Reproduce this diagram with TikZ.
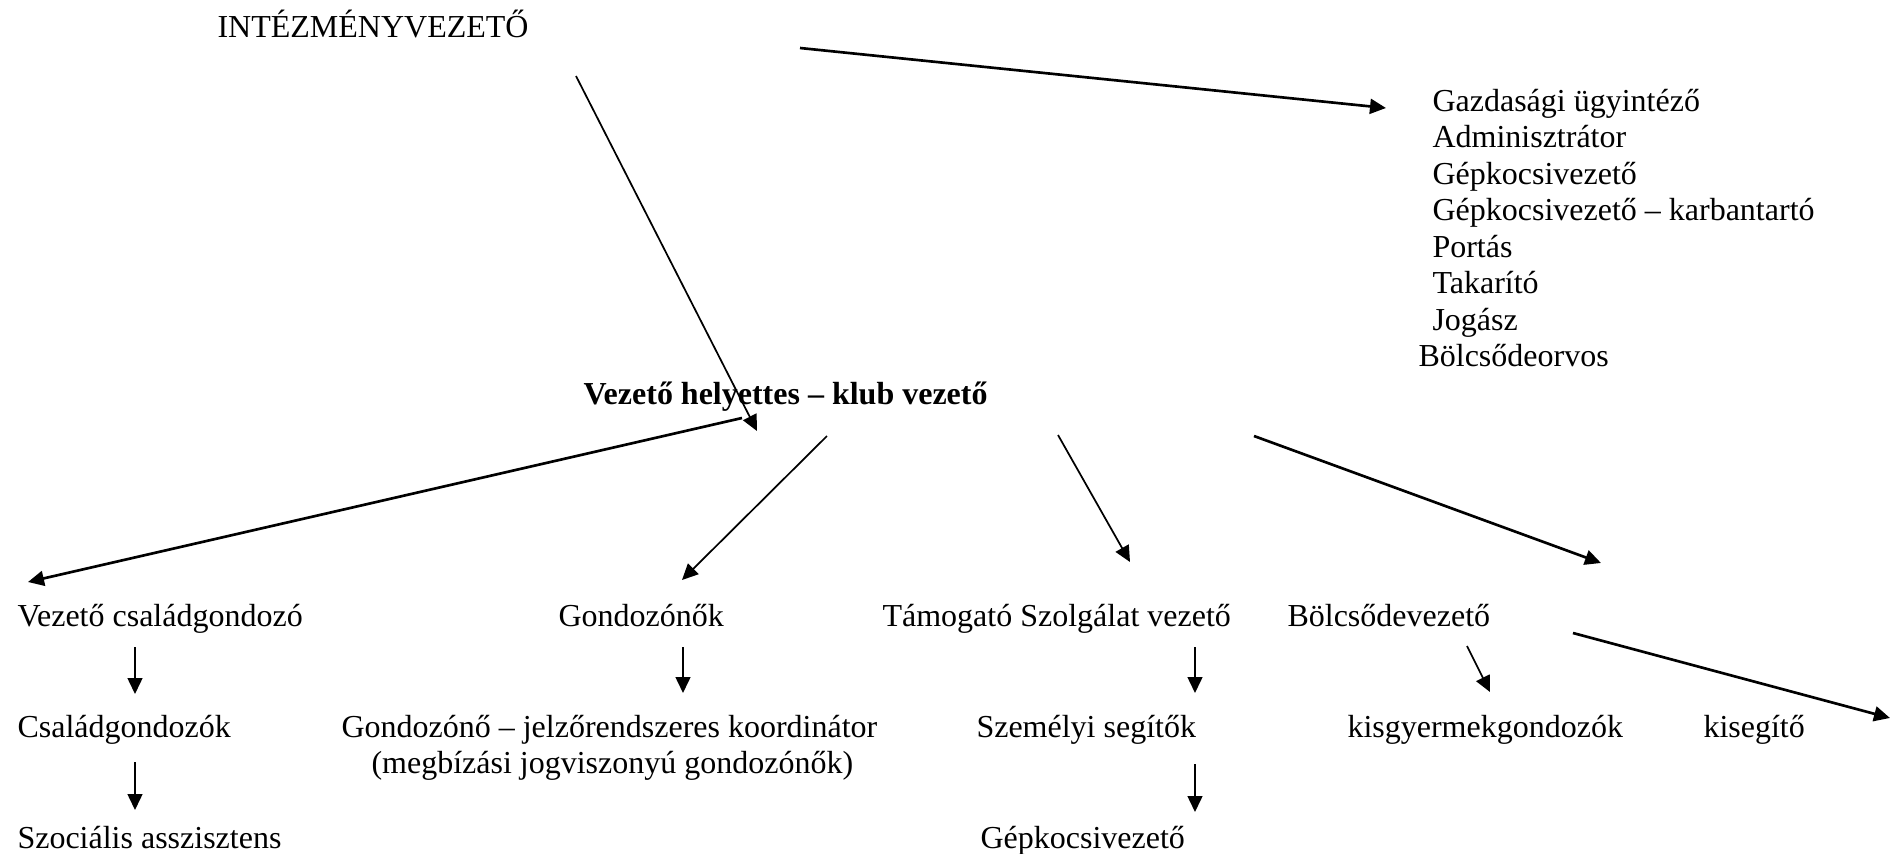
\documentclass[tikz,border=0pt]{standalone}
\usepackage{fontspec}
\setmainfont{Liberation Serif}
\usetikzlibrary{arrows.meta}
\tikzset{
lbl/.style={inner sep=0pt, anchor=base west, font=\fontsize{12bp}{14bp}\selectfont},
thinarrow/.style={-{Triangle[length=6bp,width=5.6bp]}, line width=0.65pt},
thickarrow/.style={thinarrow, line width=1pt},
}
\begin{document}
\begin{tikzpicture}[x=0.375bp, y=-0.375bp]
\useasboundingbox (0,0) rectangle (1892,854);
%Place the nodes
\node[lbl] (top) at (217,37) {INTÉZMÉNYVEZETŐ};
\foreach \txt [count=\i] in {Gazdasági ügyintéző, Adminisztrátor, Gépkocsivezető,
	Gépkocsivezető – karbantartó, Portás, Takarító, Jogász} {
	\node[lbl] (g\i) at (1432, {111+36.5*(\i-1)}) {\txt};
}
\node[lbl] (g8) at (1418,366.5) {Bölcsődeorvos};
\node[lbl, font=\fontsize{12bp}{14bp}\selectfont\bfseries] (dep) at (583,404) {Vezető helyettes – klub vezető};

%first row
\node[lbl] (vcs) at (17,626) {Vezető családgondozó};
\node[lbl] (gond) at (558,626) {Gondozónők};
\node[lbl] (tam) at (882,626) {Támogató Szolgálat vezető};
\node[lbl] (bolcs) at (1287,626) {Bölcsődevezető};

%second and third row
\node[lbl] (csg) at ([shift={(0,111)}]vcs.base west) {Családgondozók};
\node[lbl] (koord) at (341,737) {Gondozónő – jelzőrendszeres koordinátor};
\node[lbl] (koordb) at ([shift={(30,36.5)}]koord.base west) {(megbízási jogviszonyú gondozónők)};
\node[lbl] (szem) at (976,737) {Személyi segítők};
\node[lbl] (kisgy) at (1347,737) {kisgyermekgondozók};
\node[lbl] (kiseg) at (1703,737) {kisegítő};
\node[lbl] (szoc) at ([shift={(0,111)}]csg.base west) {Szociális asszisztens};
\node[lbl] (gepk) at (980,848) {Gépkocsivezető};
\coordinate (edge) at (1890,718);

%Connect them
\draw[thickarrow] ([shift={(583,11)}]top.base west) -- ([shift={(-46,-3)}]g1.base west);
\draw[thinarrow] ([shift={(359,39)}]top.base west) -- ([shift={(174,27)}]dep.base west);
\draw[thickarrow] ([shift={(159,14)}]dep.base west) -- ([shift={(11,-44)}]vcs.base west);
\draw[thinarrow] ([shift={(244,32)}]dep.base west) -- ([shift={(124,-46)}]gond.base west);
\draw[thinarrow] ([shift={(475,31)}]dep.base west) -- ([shift={(248,-64)}]tam.base west);
\draw[thickarrow] ([shift={(671,32)}]dep.base west) -- ([shift={(314,-63)}]bolcs.base west);

\draw[thinarrow] ([shift={(118,21)}]vcs.base west) -- ([shift={(118,-43)}]csg.base west);
\draw[thinarrow] ([shift={(118,25)}]csg.base west) -- ([shift={(118,-38)}]szoc.base west);
\draw[thinarrow] ([shift={(125,21)}]gond.base west) -- ([shift={(342,-44)}]koord.base west);
\draw[thinarrow] ([shift={(313,21)}]tam.base west) -- ([shift={(219,-44)}]szem.base west);
\draw[thinarrow] ([shift={(219,27)}]szem.base west) -- ([shift={(215,-36)}]gepk.base west);
\draw[thinarrow] ([shift={(180,20)}]bolcs.base west) -- ([shift={(143,-45)}]kisgy.base west);
\draw[thickarrow] ([shift={(286,7)}]bolcs.base west) -- (edge);
\end{tikzpicture}
\end{document}
